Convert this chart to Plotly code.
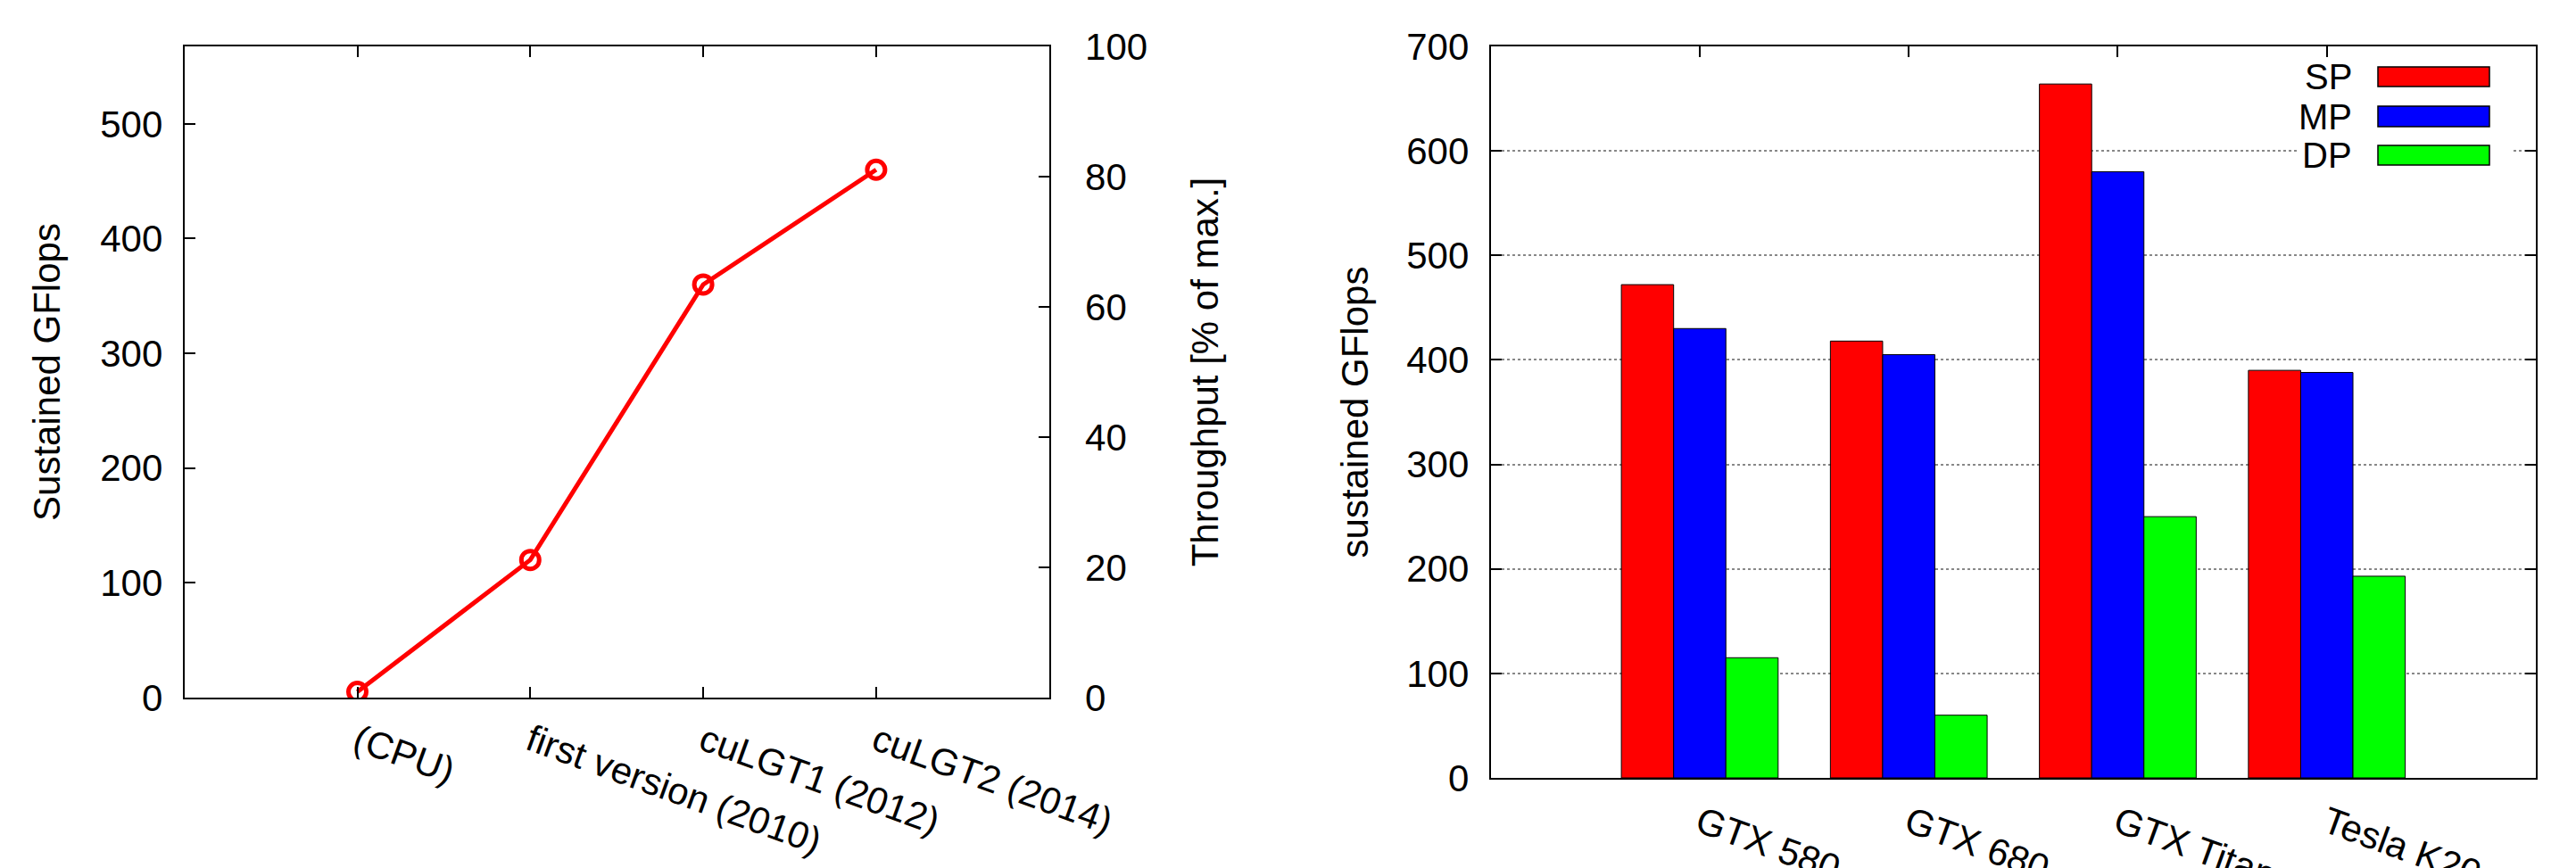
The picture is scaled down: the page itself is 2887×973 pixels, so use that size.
import plotly.graph_objects as go

# ---------------- data ----------------
methods = ["(CPU)", "first version (2010)", "cuLGT1 (2012)", "cuLGT2 (2014)"]
gflops = [5, 120, 360, 460]
gflops_max = 567.5          # 100 % on the right-hand axis
throughput_ticks = [0, 20, 40, 60, 80, 100]

devices = ["GTX 580", "GTX 680", "GTX Titan", "Tesla K20s"]
sp = [472, 418, 664, 390]
mp = [430, 405, 580, 388]
dp = [115, 60, 250, 193]
series_names = ["SP", "MP", "DP"]
series_colors = ["#ff0000", "#0000ff", "#00ff00"]

# ---------------- figure ----------------
W, H = 2887, 973
FONT = "Liberation Sans, Arial, Helvetica, sans-serif"
FS = 42

def px(x):
    return x / W

def py(y):
    return 1 - y / H

fig = go.Figure()

fig.add_trace(go.Scatter(
    x=methods, y=gflops, mode="lines+markers", xaxis="x", yaxis="y",
    line=dict(color="#ff0000", width=5),
    marker=dict(symbol="circle-open", size=20, color="#ff0000", line=dict(width=5, color="#ff0000")),
    showlegend=False,
))
# same points expressed in % of max, on the right-hand axis (invisible, keeps the axis drawn)
fig.add_trace(go.Scatter(
    x=methods, y=[g / gflops_max * 100 for g in gflops], mode="markers",
    xaxis="x", yaxis="y2", marker=dict(opacity=0), hoverinfo="skip", showlegend=False,
))

for name, vals, col in zip(series_names, [sp, mp, dp], series_colors):
    fig.add_trace(go.Bar(
        x=devices, y=vals, name=name, xaxis="x2", yaxis="y3",
        marker=dict(color=col, line=dict(color="black", width=1)),
        showlegend=False,
    ))

common_axis = dict(
    showline=True, linecolor="black", linewidth=2,
    ticks="inside", ticklen=12, tickwidth=1.5, tickcolor="black",
    tickfont=dict(family=FONT, size=FS, color="black"),
    zeroline=False, automargin=False,
)

left_dom = [px(206.7), px(1175.7)]
right_dom = [px(1670.7), px(2842)]

fig.update_layout(
    width=W, height=H,
    margin=dict(l=0, r=0, t=0, b=0),
    paper_bgcolor="white", plot_bgcolor="white",
    barmode="group", bargap=0.25, bargroupgap=0,
    font=dict(family=FONT, size=FS, color="black"),
    xaxis=dict(
        common_axis, domain=left_dom, anchor="y", type="category",
        range=[-1, 4], mirror="ticks", showgrid=False,
        tickangle=20, ticklabelstandoff=6,
    ),
    yaxis=dict(
        common_axis, domain=[py(782), py(52)], anchor="x",
        range=[0, gflops_max], dtick=100, mirror=True, showgrid=False,
        ticklabelstandoff=14,
        title=dict(text="Sustained GFlops", font=dict(family=FONT, size=FS), standoff=32),
    ),
    yaxis2=dict(
        common_axis, overlaying="y", side="right", anchor="x",
        range=[0, 100], tickvals=throughput_ticks, showgrid=False,
        ticklabelstandoff=30,
        title=dict(text="Throughput [% of max.]", font=dict(family=FONT, size=FS), standoff=50),
    ),
    xaxis2=dict(
        common_axis, domain=right_dom, anchor="y3", type="category",
        range=[-1, 4], mirror="ticks", showgrid=False, layer="below traces",
        tickangle=20, ticklabelstandoff=8,
    ),
    yaxis3=dict(
        common_axis, domain=[py(872), py(52)], anchor="x2",
        range=[0, 700], dtick=100, mirror="ticks",
        showgrid=True, gridcolor="#888888", griddash="dot", gridwidth=1.5,
        ticklabelstandoff=14,
        title=dict(text="sustained GFlops", font=dict(family=FONT, size=FS), standoff=30),
    ),
)

# ---------------- manual gnuplot-style legend ----------------
shapes = [dict(type="rect", xref="paper", yref="paper", layer="above",
               x0=px(2577), x1=px(2815), y0=py(196), y1=py(66),
               fillcolor="white", line=dict(width=0))]
annotations = []
rows = [(75, 97), (119, 142), (163, 185)]
for (y0, y1), name, col in zip(rows, series_names, series_colors):
    shapes.append(dict(type="rect", xref="paper", yref="paper", layer="above",
                       x0=px(2665), x1=px(2790), y0=py(y1), y1=py(y0),
                       fillcolor=col, line=dict(color="black", width=1.5)))
    annotations.append(dict(xref="paper", yref="paper", x=px(2638), y=py((y0 + y1) / 2),
                            text=name, showarrow=False, xanchor="right", yanchor="middle",
                            font=dict(family=FONT, size=40, color="black")))
fig.update_layout(shapes=shapes, annotations=annotations)

fig.write_html("out.html", config={"displayModeBar": False},
               post_script="document.body.style.margin='0';document.body.style.overflow='hidden';")
